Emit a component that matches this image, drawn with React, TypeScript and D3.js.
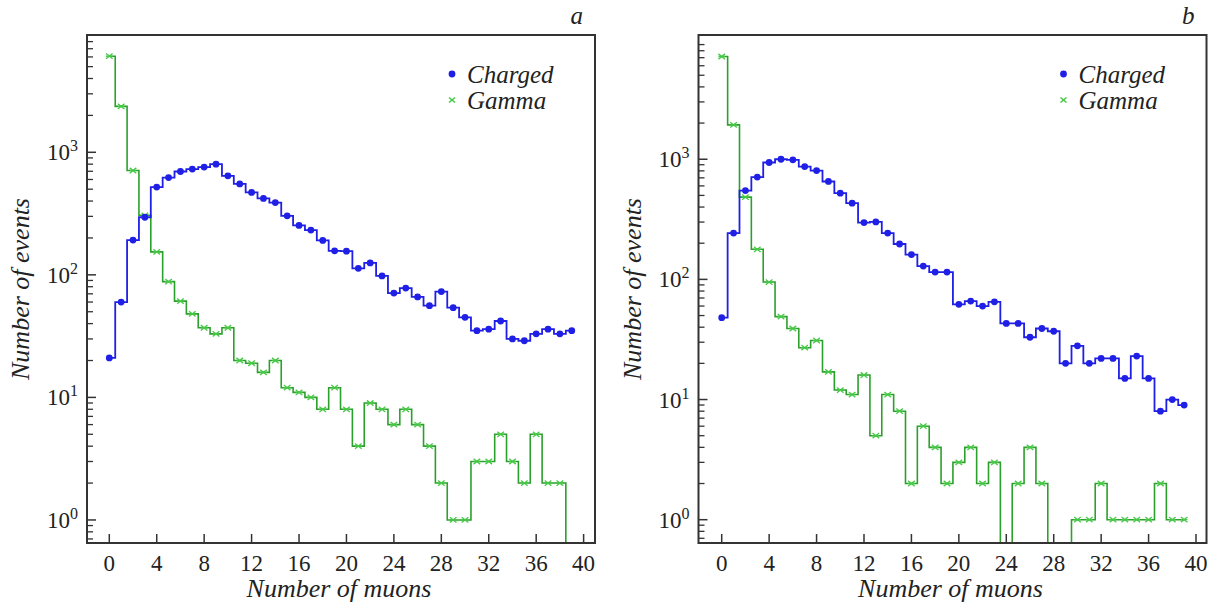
import React from "react";
import * as d3 from "d3";

const muons = [0,1,2,3,4,5,6,7,8,9,10,11,12,13,14,15,16,17,18,19,20,21,22,23,24,25,26,27,28,29,30,31,32,33,34,35,36,37,38,39];

const chargedA = [21,60,192,295,520,622,697,730,758,800,643,552,470,420,389,303,253,232,191,157,156,113,125,98,71,78,66,56,73,54,45,35,36,42,30,29,33,36,33,35];
const gammaA = [6080,2370,710,306,154,88,61,48,37,33,37,20,19,16,20,12,11,10,8,12,8,4,9,8,6,8,6,4,2,1,1,3,3,5,3,2,5,2,2,0];

const chargedB = [48,243,549,710,939,1000,988,869,805,653,522,431,297,301,243,197,161,129,115,115,62,66,60,65,43,43,33,39,37,20,28,20,22,22,15,23,15,8,10,9];
const gammaB = [7160,1932,484,178,95,49,39,27,31,17,12,11,16,5,11,8,2,6,4,2,3,4,2,3,0,2,4,2,0,0,1,1,2,1,1,1,1,2,1,1];

const xTicks = [0,4,8,12,16,20,24,28,32,36,40];
const yDecades = [0,1,2,3];
const seriesNames = ["Charged","Gamma"];
const panelLetters = ["a","b"];

const BLUE = "#1f1fe6";
const GREEN = "#2ca02c";
const LGREEN = "#45c845";
const FRAME = "#333";
const TXT = "#222";
const FONT = "Liberation Serif, DejaVu Serif, serif";

type PanelCfg = {
  id: string;
  letter: string;
  left: number; right: number; top: number; bottom: number;
  xDom: [number, number];
  yDom: [number, number];
  charged: number[];
  gamma: number[];
};

const panels: PanelCfg[] = [
  { id: "A", letter: panelLetters[0], left: 87, right: 595, top: 35, bottom: 543,
    xDom: [-1.88, 40.96], yDom: [Math.pow(10,-0.188), Math.pow(10,3.957)],
    charged: chargedA, gamma: gammaA },
  { id: "B", letter: panelLetters[1], left: 698.5, right: 1206.5, top: 35, bottom: 543,
    xDom: [-1.957, 40.885], yDom: [Math.pow(10,-0.194), Math.pow(10,4.034)],
    charged: chargedB, gamma: gammaB },
];

const tStyle = (size: number, italic: boolean): React.CSSProperties => ({
  fontFamily: FONT, fontSize: size, fontStyle: italic ? "italic" : "normal", fill: TXT,
});

function Panel({ p }: { p: PanelCfg }) {
  const x = d3.scaleLinear().domain(p.xDom).range([p.left, p.right]);
  const y = d3.scaleLog().domain(p.yDom).range([p.bottom, p.top]);
  const yv = (v: number) => (v > 0 ? y(v) : p.bottom + 20);
  const line = d3.line<[number, number]>()
    .x(d => x(d[0]))
    .y(d => yv(d[1]))
    .curve(d3.curveStep);
  const cData: [number, number][] = muons.map((m, i) => [m, p.charged[i]]);
  const gData: [number, number][] = muons.map((m, i) => [m, p.gamma[i]]);
  const clipId = "clip" + p.id;
  const minor: number[] = [];
  const [lo, hi] = p.yDom;
  for (let e = -1; e <= 4; e++) {
    for (let k = 2; k <= 9; k++) {
      const v = k * Math.pow(10, e);
      if (v > lo && v < hi) minor.push(v);
    }
  }
  const ms = 3.3;
  return (
    <g>
      <defs>
        <clipPath id={clipId}>
          <rect x={p.left} y={p.top} width={p.right - p.left} height={p.bottom - p.top} />
        </clipPath>
      </defs>
      <g clipPath={`url(#${clipId})`}>
        <path d={line(gData) || ""} fill="none" stroke={GREEN} strokeWidth={1.6} />
        <path d={line(cData) || ""} fill="none" stroke={BLUE} strokeWidth={1.8} />
        {gData.filter(d => d[1] > 0).map((d, i) => {
          const cx = x(d[0]), cy = y(d[1]);
          return (
            <g key={"g" + i} stroke={LGREEN} strokeWidth={1.3}>
              <line x1={cx - ms} y1={cy - ms * 0.8} x2={cx + ms} y2={cy + ms * 0.8} />
              <line x1={cx - ms} y1={cy + ms * 0.8} x2={cx + ms} y2={cy - ms * 0.8} />
              <line x1={cx - ms} y1={cy} x2={cx + ms} y2={cy} />
            </g>
          );
        })}
        {cData.filter(d => d[1] > 0).map((d, i) => (
          <circle key={"c" + i} cx={x(d[0])} cy={y(d[1])} r={3.4} fill={BLUE} />
        ))}
      </g>
      <rect x={p.left} y={p.top} width={p.right - p.left} height={p.bottom - p.top}
        fill="none" stroke={FRAME} strokeWidth={2} />
      {xTicks.map(t => (
        <g key={"xt" + t}>
          <line x1={x(t)} x2={x(t)} y1={p.bottom} y2={p.bottom - 9} stroke={FRAME} strokeWidth={1.5} />
          <text x={x(t)} y={p.bottom + 28} textAnchor="middle" style={tStyle(23, false)}>{t}</text>
        </g>
      ))}
      {yDecades.map(e => {
        const yy = y(Math.pow(10, e));
        return (
          <g key={"yt" + e}>
            <line x1={p.left} x2={p.left + 9} y1={yy} y2={yy} stroke={FRAME} strokeWidth={1.5} />
            <text x={p.left - 9} y={yy + 8} textAnchor="end" style={tStyle(23, false)}>
              10<tspan dy={-9} style={{ fontSize: 16 }}>{e}</tspan>
            </text>
          </g>
        );
      })}
      {minor.map((v, i) => (
        <line key={"ym" + i} x1={p.left} x2={p.left + 6} y1={y(v)} y2={y(v)} stroke={FRAME} strokeWidth={1.3} />
      ))}
      <text x={(p.left + p.right) / 2 - 2} y={p.bottom + 54} textAnchor="middle" style={tStyle(26, true)}>Number of muons</text>
      <text transform={`translate(${p.left - 58},${(p.top + p.bottom) / 2}) rotate(-90)`} textAnchor="middle"
        style={tStyle(26, true)}>Number of events</text>
      <text x={p.right - 12} y={p.top - 11} textAnchor="end" style={tStyle(25, true)}>{p.letter}</text>
      <g>
        <circle cx={p.left + 365} cy={p.top + 39} r={3.4} fill={BLUE} />
        <g stroke={LGREEN} strokeWidth={1.5}>
          <line x1={p.left + 362} y1={p.top + 62.5} x2={p.left + 368} y2={p.top + 67.5} />
          <line x1={p.left + 362} y1={p.top + 67.5} x2={p.left + 368} y2={p.top + 62.5} />
        </g>
        <text x={p.left + 380} y={p.top + 48} style={tStyle(25, true)}>{seriesNames[0]}</text>
        <text x={p.left + 380} y={p.top + 74} style={tStyle(25, true)}>{seriesNames[1]}</text>
      </g>
    </g>
  );
}

export default function App() {
  return (
    <svg width={1215} height={603} style={{ position: "absolute", left: 0, top: 0, background: "#fff" }}>
      <rect x={0} y={0} width={1215} height={603} fill="#fff" />
      {panels.map(p => <Panel key={p.id} p={p} />)}
    </svg>
  );
}
